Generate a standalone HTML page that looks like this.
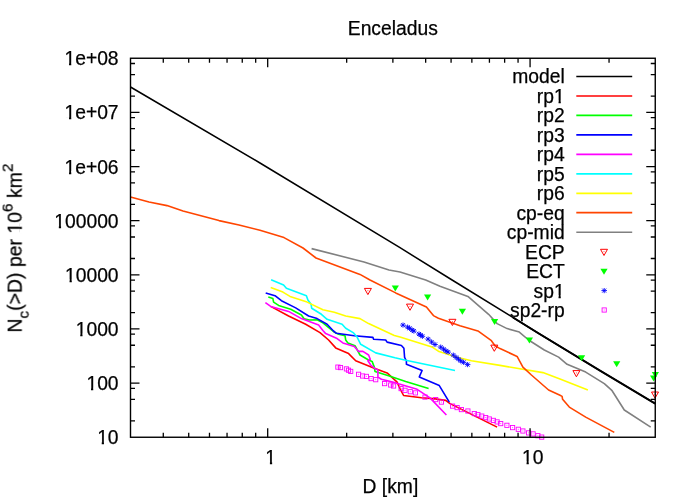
<!DOCTYPE html>
<html><head><meta charset="utf-8"><title>Enceladus</title><style>html,body{margin:0;padding:0;background:#fff;}svg{display:block}text{font-family:"Liberation Sans",sans-serif;fill:#000;stroke:#000;stroke-width:0.25px}</style></head><body>
<svg width="700" height="500" viewBox="0 0 700 500">
<rect width="700" height="500" fill="#fff"/>
<polyline points="130.5,87.0 260.0,163.0 400.0,247.7 452.1,280.0 538.0,333.0 600.0,370.7 655.2,403.7" fill="none" stroke="#000" stroke-width="1.5" stroke-linejoin="round" stroke-linecap="butt" />
<polyline points="513.0,317.5 538.0,333.0 600.0,370.7 655.2,403.7" fill="none" stroke="#000" stroke-width="2.0" stroke-linejoin="round" stroke-linecap="butt" />
<polyline points="270.7,306.4 288.6,316.0 305.7,324.3 320.0,332.6 328.6,340.0 335.7,347.9 348.6,353.6 355.7,360.7 374.3,368.3 387.1,372.9 397.1,382.1 400.0,388.6 403.6,395.5 421.4,397.7 432.9,398.6 445.7,400.4 450.0,403.6 497.1,427.1" fill="none" stroke="#ff0000" stroke-width="1.6" stroke-linejoin="round" stroke-linecap="butt" />
<polyline points="268.3,297.1 272.9,298.6 273.6,302.1 278.6,305.4 290.7,309.3 301.4,315.0 304.3,318.9 309.3,320.0 317.1,319.7 322.9,322.9 334.3,332.1 338.6,334.3 345.0,335.7 345.7,340.0 347.9,342.9 355.0,345.7 360.0,355.0 368.6,360.0 372.1,361.4 374.3,367.1 375.0,371.4 388.6,375.7 405.7,381.5 428.6,388.5" fill="none" stroke="#00ff00" stroke-width="1.6" stroke-linejoin="round" stroke-linecap="butt" />
<polyline points="265.7,292.9 275.0,295.7 281.4,300.7 295.7,307.9 308.6,316.0 317.1,318.6 327.1,324.3 333.5,331.0 336.4,333.3 354.3,335.7 372.9,337.4 373.6,339.3 385.7,340.0 387.1,342.1 401.4,345.5 403.9,348.3 404.6,357.4 406.4,361.0 406.4,364.3 422.1,370.5 419.3,376.9 439.3,385.6 449.3,402.1" fill="none" stroke="#0000ff" stroke-width="1.6" stroke-linejoin="round" stroke-linecap="butt" />
<polyline points="265.4,302.6 270.7,306.4 288.6,311.4 301.4,318.6 318.6,325.0 322.9,330.5 325.7,333.6 337.1,338.6 342.9,342.9 354.3,346.4 358.6,351.4 362.9,351.4 368.6,355.0 370.3,359.3 367.9,360.7 370.7,365.0 375.0,368.6 377.9,370.0 377.9,377.1 381.4,379.3 395.7,382.9 400.0,384.2 417.1,389.3 430.0,397.9 446.4,415.0" fill="none" stroke="#ff00ff" stroke-width="1.6" stroke-linejoin="round" stroke-linecap="butt" />
<polyline points="271.1,279.7 283.6,285.0 286.4,288.3 306.4,295.7 307.9,300.0 311.1,304.3 311.7,308.3 321.4,314.3 327.1,319.3 342.1,324.3 345.7,328.3 353.6,332.9 357.1,337.1 360.7,344.3 375.7,352.9 395.0,357.8 405.7,360.2 455.0,370.5" fill="none" stroke="#00ffff" stroke-width="1.6" stroke-linejoin="round" stroke-linecap="butt" />
<polyline points="270.7,287.4 282.9,292.1 290.0,296.4 307.1,302.1 322.9,309.7 334.3,312.3 345.7,316.0 360.0,318.6 368.6,323.6 394.3,335.4 400.0,337.1 420.0,343.2 432.7,347.3 439.0,351.6 457.1,357.3 471.4,360.7 500.0,365.4 542.9,372.6 560.0,379.0 587.9,390.0" fill="none" stroke="#ffff00" stroke-width="1.6" stroke-linejoin="round" stroke-linecap="butt" />
<polyline points="130.5,197.0 149.0,202.0 167.0,205.6 183.0,211.0 219.0,220.6 239.0,225.0 260.0,230.3 284.0,237.6 303.0,248.0 316.0,258.0 360.0,274.4 370.0,280.0 395.7,292.9 426.4,307.0 433.4,315.6 438.4,318.3 460.0,325.7 477.9,330.9 491.4,340.7 495.0,345.7 500.0,348.6 517.1,356.4 522.9,367.1 531.4,375.0 548.6,390.0 560.0,395.3 562.1,396.4 562.6,399.3 569.3,407.1 585.7,417.1 614.3,432.4" fill="none" stroke="#ff4500" stroke-width="1.6" stroke-linejoin="round" stroke-linecap="butt" />
<polyline points="311.6,248.6 364.0,262.0 389.0,270.0 400.0,272.0 425.7,280.0 440.0,286.2 467.9,296.4 488.6,314.3 497.1,323.6 507.1,328.6 519.3,332.1 528.6,340.0 544.3,350.0 558.6,357.1 567.1,364.3 585.7,372.1 604.3,383.6 612.1,390.7 624.3,410.0 650.7,427.1" fill="none" stroke="#808080" stroke-width="1.6" stroke-linejoin="round" stroke-linecap="butt" />
<path d="M364.4 288.4 h7 l-3.5 6.2 z" fill="none" stroke="#ff0000" stroke-width="1"/>
<rect x="367.4" y="290.2" width="1" height="1" fill="#ff0000" opacity="0.7"/>
<path d="M406.5 304.1 h7 l-3.5 6.2 z" fill="none" stroke="#ff0000" stroke-width="1"/>
<rect x="409.5" y="305.9" width="1" height="1" fill="#ff0000" opacity="0.7"/>
<path d="M448.9 319.3 h7 l-3.5 6.2 z" fill="none" stroke="#ff0000" stroke-width="1"/>
<rect x="451.9" y="321.1" width="1" height="1" fill="#ff0000" opacity="0.7"/>
<path d="M490.8 345.1 h7 l-3.5 6.2 z" fill="none" stroke="#ff0000" stroke-width="1"/>
<rect x="493.8" y="346.9" width="1" height="1" fill="#ff0000" opacity="0.7"/>
<path d="M572.9 370.6 h7 l-3.5 6.2 z" fill="none" stroke="#ff0000" stroke-width="1"/>
<rect x="575.9" y="372.4" width="1" height="1" fill="#ff0000" opacity="0.7"/>
<path d="M651.5 392.0 h7 l-3.5 6.2 z" fill="none" stroke="#ff0000" stroke-width="1"/>
<rect x="654.5" y="393.8" width="1" height="1" fill="#ff0000" opacity="0.7"/>
<path d="M391.7 285.5 h7.2 l-3.6 6.0 z" fill="#00ff00"/>
<path d="M424.0 294.5 h7.2 l-3.6 6.0 z" fill="#00ff00"/>
<path d="M458.8 308.7 h7.2 l-3.6 6.0 z" fill="#00ff00"/>
<path d="M491.0 319.0 h7.2 l-3.6 6.0 z" fill="#00ff00"/>
<path d="M525.8 337.4 h7.2 l-3.6 6.0 z" fill="#00ff00"/>
<path d="M578.0 355.2 h7.2 l-3.6 6.0 z" fill="#00ff00"/>
<path d="M613.1 361.2 h7.2 l-3.6 6.0 z" fill="#00ff00"/>
<path d="M651.8 371.9 h7.2 l-3.6 6.0 z" fill="#00ff00"/>
<path d="M650.0 375.5 h7.2 l-3.6 6.0 z" fill="#00ff00"/>
<path d="M400.2 325.1 h5.6 M403.0 322.5 v5.2 M401.0 323.1 l4 4 M401.0 327.1 l4 -4" stroke="#0000ff" stroke-width="0.9" fill="none"/>
<path d="M404.8 327.1 h5.6 M407.6 324.5 v5.2 M405.6 325.1 l4 4 M405.6 329.1 l4 -4" stroke="#0000ff" stroke-width="0.9" fill="none"/>
<path d="M406.8 328.3 h5.6 M409.6 325.7 v5.2 M407.6 326.3 l4 4 M407.6 330.3 l4 -4" stroke="#0000ff" stroke-width="0.9" fill="none"/>
<path d="M409.3 330.0 h5.6 M412.1 327.4 v5.2 M410.1 328.0 l4 4 M410.1 332.0 l4 -4" stroke="#0000ff" stroke-width="0.9" fill="none"/>
<path d="M411.1 331.1 h5.6 M413.9 328.5 v5.2 M411.9 329.1 l4 4 M411.9 333.1 l4 -4" stroke="#0000ff" stroke-width="0.9" fill="none"/>
<path d="M416.2 334.0 h5.6 M419.0 331.4 v5.2 M417.0 332.0 l4 4 M417.0 336.0 l4 -4" stroke="#0000ff" stroke-width="0.9" fill="none"/>
<path d="M417.9 335.1 h5.6 M420.7 332.5 v5.2 M418.7 333.1 l4 4 M418.7 337.1 l4 -4" stroke="#0000ff" stroke-width="0.9" fill="none"/>
<path d="M419.6 336.3 h5.6 M422.4 333.7 v5.2 M420.4 334.3 l4 4 M420.4 338.3 l4 -4" stroke="#0000ff" stroke-width="0.9" fill="none"/>
<path d="M425.3 339.1 h5.6 M428.1 336.5 v5.2 M426.1 337.1 l4 4 M426.1 341.1 l4 -4" stroke="#0000ff" stroke-width="0.9" fill="none"/>
<path d="M428.8 342.0 h5.6 M431.6 339.4 v5.2 M429.6 340.0 l4 4 M429.6 344.0 l4 -4" stroke="#0000ff" stroke-width="0.9" fill="none"/>
<path d="M432.2 344.5 h5.6 M435.0 341.9 v5.2 M433.0 342.5 l4 4 M433.0 346.5 l4 -4" stroke="#0000ff" stroke-width="0.9" fill="none"/>
<path d="M437.9 347.1 h5.6 M440.7 344.5 v5.2 M438.7 345.1 l4 4 M438.7 349.1 l4 -4" stroke="#0000ff" stroke-width="0.9" fill="none"/>
<path d="M440.8 349.1 h5.6 M443.6 346.5 v5.2 M441.6 347.1 l4 4 M441.6 351.1 l4 -4" stroke="#0000ff" stroke-width="0.9" fill="none"/>
<path d="M443.1 350.9 h5.6 M445.9 348.3 v5.2 M443.9 348.9 l4 4 M443.9 352.9 l4 -4" stroke="#0000ff" stroke-width="0.9" fill="none"/>
<path d="M445.3 352.1 h5.6 M448.1 349.5 v5.2 M446.1 350.1 l4 4 M446.1 354.1 l4 -4" stroke="#0000ff" stroke-width="0.9" fill="none"/>
<path d="M450.5 355.1 h5.6 M453.3 352.5 v5.2 M451.3 353.1 l4 4 M451.3 357.1 l4 -4" stroke="#0000ff" stroke-width="0.9" fill="none"/>
<path d="M453.3 357.4 h5.6 M456.1 354.8 v5.2 M454.1 355.4 l4 4 M454.1 359.4 l4 -4" stroke="#0000ff" stroke-width="0.9" fill="none"/>
<path d="M455.6 359.1 h5.6 M458.4 356.5 v5.2 M456.4 357.1 l4 4 M456.4 361.1 l4 -4" stroke="#0000ff" stroke-width="0.9" fill="none"/>
<path d="M457.9 360.9 h5.6 M460.7 358.3 v5.2 M458.7 358.9 l4 4 M458.7 362.9 l4 -4" stroke="#0000ff" stroke-width="0.9" fill="none"/>
<path d="M460.8 362.3 h5.6 M463.6 359.7 v5.2 M461.6 360.3 l4 4 M461.6 364.3 l4 -4" stroke="#0000ff" stroke-width="0.9" fill="none"/>
<path d="M464.8 364.6 h5.6 M467.6 362.0 v5.2 M465.6 362.6 l4 4 M465.6 366.6 l4 -4" stroke="#0000ff" stroke-width="0.9" fill="none"/>
<rect x="335.8" y="365.0" width="4.2" height="4.2" fill="none" stroke="#ff00ff" stroke-width="0.9"/>
<rect x="337.4" y="366.6" width="1" height="1" fill="#ff00ff" opacity="0.7"/>
<rect x="338.4" y="365.5" width="4.2" height="4.2" fill="none" stroke="#ff00ff" stroke-width="0.9"/>
<rect x="340.0" y="367.1" width="1" height="1" fill="#ff00ff" opacity="0.7"/>
<rect x="344.3" y="366.8" width="4.2" height="4.2" fill="none" stroke="#ff00ff" stroke-width="0.9"/>
<rect x="345.9" y="368.4" width="1" height="1" fill="#ff00ff" opacity="0.7"/>
<rect x="346.4" y="368.1" width="4.2" height="4.2" fill="none" stroke="#ff00ff" stroke-width="0.9"/>
<rect x="348.0" y="369.7" width="1" height="1" fill="#ff00ff" opacity="0.7"/>
<rect x="348.6" y="369.3" width="4.2" height="4.2" fill="none" stroke="#ff00ff" stroke-width="0.9"/>
<rect x="350.2" y="370.9" width="1" height="1" fill="#ff00ff" opacity="0.7"/>
<rect x="356.5" y="372.2" width="4.2" height="4.2" fill="none" stroke="#ff00ff" stroke-width="0.9"/>
<rect x="358.1" y="373.8" width="1" height="1" fill="#ff00ff" opacity="0.7"/>
<rect x="360.5" y="373.9" width="4.2" height="4.2" fill="none" stroke="#ff00ff" stroke-width="0.9"/>
<rect x="362.1" y="375.5" width="1" height="1" fill="#ff00ff" opacity="0.7"/>
<rect x="364.3" y="374.3" width="4.2" height="4.2" fill="none" stroke="#ff00ff" stroke-width="0.9"/>
<rect x="365.9" y="375.9" width="1" height="1" fill="#ff00ff" opacity="0.7"/>
<rect x="369.0" y="376.5" width="4.2" height="4.2" fill="none" stroke="#ff00ff" stroke-width="0.9"/>
<rect x="370.6" y="378.1" width="1" height="1" fill="#ff00ff" opacity="0.7"/>
<rect x="373.6" y="377.6" width="4.2" height="4.2" fill="none" stroke="#ff00ff" stroke-width="0.9"/>
<rect x="375.2" y="379.2" width="1" height="1" fill="#ff00ff" opacity="0.7"/>
<rect x="382.5" y="381.5" width="4.2" height="4.2" fill="none" stroke="#ff00ff" stroke-width="0.9"/>
<rect x="384.1" y="383.1" width="1" height="1" fill="#ff00ff" opacity="0.7"/>
<rect x="388.6" y="382.9" width="4.2" height="4.2" fill="none" stroke="#ff00ff" stroke-width="0.9"/>
<rect x="390.2" y="384.5" width="1" height="1" fill="#ff00ff" opacity="0.7"/>
<rect x="391.5" y="383.9" width="4.2" height="4.2" fill="none" stroke="#ff00ff" stroke-width="0.9"/>
<rect x="393.1" y="385.5" width="1" height="1" fill="#ff00ff" opacity="0.7"/>
<rect x="399.0" y="386.5" width="4.2" height="4.2" fill="none" stroke="#ff00ff" stroke-width="0.9"/>
<rect x="400.6" y="388.1" width="1" height="1" fill="#ff00ff" opacity="0.7"/>
<rect x="402.9" y="388.2" width="4.2" height="4.2" fill="none" stroke="#ff00ff" stroke-width="0.9"/>
<rect x="404.5" y="389.8" width="1" height="1" fill="#ff00ff" opacity="0.7"/>
<rect x="408.2" y="389.6" width="4.2" height="4.2" fill="none" stroke="#ff00ff" stroke-width="0.9"/>
<rect x="409.8" y="391.2" width="1" height="1" fill="#ff00ff" opacity="0.7"/>
<rect x="413.3" y="390.8" width="4.2" height="4.2" fill="none" stroke="#ff00ff" stroke-width="0.9"/>
<rect x="414.9" y="392.4" width="1" height="1" fill="#ff00ff" opacity="0.7"/>
<rect x="422.9" y="395.0" width="4.2" height="4.2" fill="none" stroke="#ff00ff" stroke-width="0.9"/>
<rect x="424.5" y="396.6" width="1" height="1" fill="#ff00ff" opacity="0.7"/>
<rect x="433.6" y="397.5" width="4.2" height="4.2" fill="none" stroke="#ff00ff" stroke-width="0.9"/>
<rect x="435.2" y="399.1" width="1" height="1" fill="#ff00ff" opacity="0.7"/>
<rect x="439.3" y="400.0" width="4.2" height="4.2" fill="none" stroke="#ff00ff" stroke-width="0.9"/>
<rect x="440.9" y="401.6" width="1" height="1" fill="#ff00ff" opacity="0.7"/>
<rect x="450.5" y="404.0" width="4.2" height="4.2" fill="none" stroke="#ff00ff" stroke-width="0.9"/>
<rect x="452.1" y="405.6" width="1" height="1" fill="#ff00ff" opacity="0.7"/>
<rect x="455.0" y="405.5" width="4.2" height="4.2" fill="none" stroke="#ff00ff" stroke-width="0.9"/>
<rect x="456.6" y="407.1" width="1" height="1" fill="#ff00ff" opacity="0.7"/>
<rect x="459.3" y="407.5" width="4.2" height="4.2" fill="none" stroke="#ff00ff" stroke-width="0.9"/>
<rect x="460.9" y="409.1" width="1" height="1" fill="#ff00ff" opacity="0.7"/>
<rect x="465.8" y="408.9" width="4.2" height="4.2" fill="none" stroke="#ff00ff" stroke-width="0.9"/>
<rect x="467.4" y="410.5" width="1" height="1" fill="#ff00ff" opacity="0.7"/>
<rect x="472.2" y="411.5" width="4.2" height="4.2" fill="none" stroke="#ff00ff" stroke-width="0.9"/>
<rect x="473.8" y="413.1" width="1" height="1" fill="#ff00ff" opacity="0.7"/>
<rect x="475.8" y="412.6" width="4.2" height="4.2" fill="none" stroke="#ff00ff" stroke-width="0.9"/>
<rect x="477.4" y="414.2" width="1" height="1" fill="#ff00ff" opacity="0.7"/>
<rect x="479.7" y="414.0" width="4.2" height="4.2" fill="none" stroke="#ff00ff" stroke-width="0.9"/>
<rect x="481.3" y="415.6" width="1" height="1" fill="#ff00ff" opacity="0.7"/>
<rect x="483.6" y="415.5" width="4.2" height="4.2" fill="none" stroke="#ff00ff" stroke-width="0.9"/>
<rect x="485.2" y="417.1" width="1" height="1" fill="#ff00ff" opacity="0.7"/>
<rect x="487.2" y="416.9" width="4.2" height="4.2" fill="none" stroke="#ff00ff" stroke-width="0.9"/>
<rect x="488.8" y="418.5" width="1" height="1" fill="#ff00ff" opacity="0.7"/>
<rect x="491.2" y="418.3" width="4.2" height="4.2" fill="none" stroke="#ff00ff" stroke-width="0.9"/>
<rect x="492.8" y="419.9" width="1" height="1" fill="#ff00ff" opacity="0.7"/>
<rect x="495.0" y="419.8" width="4.2" height="4.2" fill="none" stroke="#ff00ff" stroke-width="0.9"/>
<rect x="496.6" y="421.4" width="1" height="1" fill="#ff00ff" opacity="0.7"/>
<rect x="498.6" y="421.5" width="4.2" height="4.2" fill="none" stroke="#ff00ff" stroke-width="0.9"/>
<rect x="500.2" y="423.1" width="1" height="1" fill="#ff00ff" opacity="0.7"/>
<rect x="504.8" y="423.2" width="4.2" height="4.2" fill="none" stroke="#ff00ff" stroke-width="0.9"/>
<rect x="506.4" y="424.8" width="1" height="1" fill="#ff00ff" opacity="0.7"/>
<rect x="510.5" y="425.5" width="4.2" height="4.2" fill="none" stroke="#ff00ff" stroke-width="0.9"/>
<rect x="512.1" y="427.1" width="1" height="1" fill="#ff00ff" opacity="0.7"/>
<rect x="516.2" y="427.2" width="4.2" height="4.2" fill="none" stroke="#ff00ff" stroke-width="0.9"/>
<rect x="517.8" y="428.8" width="1" height="1" fill="#ff00ff" opacity="0.7"/>
<rect x="520.8" y="428.9" width="4.2" height="4.2" fill="none" stroke="#ff00ff" stroke-width="0.9"/>
<rect x="522.4" y="430.5" width="1" height="1" fill="#ff00ff" opacity="0.7"/>
<rect x="526.5" y="430.8" width="4.2" height="4.2" fill="none" stroke="#ff00ff" stroke-width="0.9"/>
<rect x="528.1" y="432.4" width="1" height="1" fill="#ff00ff" opacity="0.7"/>
<rect x="531.0" y="431.8" width="4.2" height="4.2" fill="none" stroke="#ff00ff" stroke-width="0.9"/>
<rect x="532.6" y="433.4" width="1" height="1" fill="#ff00ff" opacity="0.7"/>
<rect x="535.8" y="433.6" width="4.2" height="4.2" fill="none" stroke="#ff00ff" stroke-width="0.9"/>
<rect x="537.4" y="435.2" width="1" height="1" fill="#ff00ff" opacity="0.7"/>
<rect x="539.6" y="435.0" width="4.2" height="4.2" fill="none" stroke="#ff00ff" stroke-width="0.9"/>
<rect x="541.2" y="436.6" width="1" height="1" fill="#ff00ff" opacity="0.7"/>
<path d="M130.50 420.95L135.00 420.95M655.25 420.95L650.75 420.95M130.50 399.41L135.00 399.41M655.25 399.41L650.75 399.41M130.50 388.35L135.00 388.35M655.25 388.35L650.75 388.35M130.50 383.11L139.50 383.11M655.25 383.11L646.25 383.11M130.50 366.81L135.00 366.81M655.25 366.81L650.75 366.81M130.50 345.26L135.00 345.26M655.25 345.26L650.75 345.26M130.50 334.21L135.00 334.21M655.25 334.21L650.75 334.21M130.50 328.96L139.50 328.96M655.25 328.96L646.25 328.96M130.50 312.67L135.00 312.67M655.25 312.67L650.75 312.67M130.50 291.12L135.00 291.12M655.25 291.12L650.75 291.12M130.50 280.07L135.00 280.07M655.25 280.07L650.75 280.07M130.50 274.82L139.50 274.82M655.25 274.82L646.25 274.82M130.50 258.52L135.00 258.52M655.25 258.52L650.75 258.52M130.50 236.98L135.00 236.98M655.25 236.98L650.75 236.98M130.50 225.93L135.00 225.93M655.25 225.93L650.75 225.93M130.50 220.68L139.50 220.68M655.25 220.68L646.25 220.68M130.50 204.38L135.00 204.38M655.25 204.38L650.75 204.38M130.50 182.83L135.00 182.83M655.25 182.83L650.75 182.83M130.50 171.78L135.00 171.78M655.25 171.78L650.75 171.78M130.50 166.54L139.50 166.54M655.25 166.54L646.25 166.54M130.50 150.24L135.00 150.24M655.25 150.24L650.75 150.24M130.50 128.69L135.00 128.69M655.25 128.69L650.75 128.69M130.50 117.64L135.00 117.64M655.25 117.64L650.75 117.64M130.50 112.39L139.50 112.39M655.25 112.39L646.25 112.39M130.50 96.09L135.00 96.09M655.25 96.09L650.75 96.09M130.50 74.55L135.00 74.55M655.25 74.55L650.75 74.55M130.50 63.50L135.00 63.50M655.25 63.50L650.75 63.50M163.28 437.25L163.28 432.75M163.28 58.25L163.28 62.75M188.71 437.25L188.71 432.75M188.71 58.25L188.71 62.75M209.48 437.25L209.48 432.75M209.48 58.25L209.48 62.75M227.05 437.25L227.05 432.75M227.05 58.25L227.05 62.75M242.26 437.25L242.26 432.75M242.26 58.25L242.26 62.75M255.68 437.25L255.68 432.75M255.68 58.25L255.68 62.75M267.69 437.25L267.69 428.25M267.69 58.25L267.69 67.25M346.67 437.25L346.67 432.75M346.67 58.25L346.67 62.75M392.88 437.25L392.88 432.75M392.88 58.25L392.88 62.75M425.66 437.25L425.66 432.75M425.66 58.25L425.66 62.75M451.08 437.25L451.08 432.75M451.08 58.25L451.08 62.75M471.86 437.25L471.86 432.75M471.86 58.25L471.86 62.75M489.42 437.25L489.42 432.75M489.42 58.25L489.42 62.75M504.64 437.25L504.64 432.75M504.64 58.25L504.64 62.75M518.06 437.25L518.06 432.75M518.06 58.25L518.06 62.75M530.07 437.25L530.07 428.25M530.07 58.25L530.07 67.25M609.05 437.25L609.05 432.75M609.05 58.25L609.05 62.75" stroke="#000" stroke-width="1.3" fill="none"/>
<rect x="130.50" y="58.25" width="524.75" height="379.00" fill="none" stroke="#000" stroke-width="1.4"/>
<g opacity="0.999">
<text x="392.8" y="35.1" font-size="19.3" text-anchor="middle">Enceladus</text>
<text x="118.6" y="65.2" font-size="19.3" text-anchor="end">1e+08</text>
<text x="118.6" y="119.4" font-size="19.3" text-anchor="end">1e+07</text>
<text x="118.6" y="173.5" font-size="19.3" text-anchor="end">1e+06</text>
<text x="118.6" y="227.7" font-size="19.3" text-anchor="end">100000</text>
<text x="118.6" y="281.8" font-size="19.3" text-anchor="end">10000</text>
<text x="118.6" y="336.0" font-size="19.3" text-anchor="end">1000</text>
<text x="118.6" y="390.1" font-size="19.3" text-anchor="end">100</text>
<text x="118.6" y="444.2" font-size="19.3" text-anchor="end">10</text>
<text x="270.7" y="463.7" font-size="19.3" text-anchor="middle">1</text>
<text x="532.7" y="463.7" font-size="19.3" text-anchor="middle">10</text>
<text x="390.4" y="492.6" font-size="19.3" text-anchor="middle">D [km]</text>
<text transform="translate(21.6,248.1) rotate(-90)" font-size="19.45" text-anchor="middle">N<tspan font-size="15.4" dy="6.5">c</tspan><tspan dy="-6.5">(&gt;D) per 10</tspan><tspan font-size="15.4" dy="-9.2">6</tspan><tspan dy="9.2"> km</tspan><tspan font-size="15.4" dy="-9.2">2</tspan></text>
</g>
<text x="564.7" y="83.4" font-size="19.3" text-anchor="end">model</text>
<path d="M576.3 76.5H632.2" stroke="#000" stroke-width="1.3" fill="none"/>
<text x="564.7" y="102.9" font-size="19.3" text-anchor="end">rp1</text>
<path d="M576.3 96.0H632.2" stroke="#ff0000" stroke-width="1.7" fill="none"/>
<text x="564.7" y="122.3" font-size="19.3" text-anchor="end">rp2</text>
<path d="M576.3 115.4H632.2" stroke="#00ff00" stroke-width="1.7" fill="none"/>
<text x="564.7" y="141.8" font-size="19.3" text-anchor="end">rp3</text>
<path d="M576.3 134.9H632.2" stroke="#0000ff" stroke-width="1.7" fill="none"/>
<text x="564.7" y="161.2" font-size="19.3" text-anchor="end">rp4</text>
<path d="M576.3 154.3H632.2" stroke="#ff00ff" stroke-width="1.7" fill="none"/>
<text x="564.7" y="180.7" font-size="19.3" text-anchor="end">rp5</text>
<path d="M576.3 173.8H632.2" stroke="#00ffff" stroke-width="1.7" fill="none"/>
<text x="564.7" y="200.2" font-size="19.3" text-anchor="end">rp6</text>
<path d="M576.3 193.3H632.2" stroke="#ffff00" stroke-width="1.7" fill="none"/>
<text x="564.7" y="219.6" font-size="19.3" text-anchor="end">cp-eq</text>
<path d="M576.3 212.7H632.2" stroke="#ff4500" stroke-width="1.7" fill="none"/>
<text x="564.7" y="239.1" font-size="19.3" text-anchor="end">cp-mid</text>
<path d="M576.3 232.2H632.2" stroke="#808080" stroke-width="1.45" fill="none"/>
<text x="564.7" y="258.5" font-size="19.3" text-anchor="end">ECP</text>
<path d="M600.5 249.3 h7 l-3.5 6.2 z" fill="none" stroke="#ff0000" stroke-width="1"/>
<rect x="603.5" y="251.1" width="1" height="1" fill="#ff0000" opacity="0.7"/>
<text x="564.7" y="278.0" font-size="19.3" text-anchor="end">ECT</text>
<path d="M600.4 268.7 h7.2 l-3.6 6.0 z" fill="#00ff00"/>
<text x="564.7" y="297.5" font-size="19.3" text-anchor="end">sp1</text>
<path d="M601.4 290.6 h5.6 M604.2 288.0 v5.2 M602.2 288.6 l4 4 M602.2 292.6 l4 -4" stroke="#0000ff" stroke-width="0.9" fill="none"/>
<text x="564.7" y="316.9" font-size="19.3" text-anchor="end">sp2-rp</text>
<rect x="602.1" y="307.9" width="4.2" height="4.2" fill="none" stroke="#ff00ff" stroke-width="0.9"/>
<rect x="603.7" y="309.5" width="1" height="1" fill="#ff00ff" opacity="0.7"/>
<g id="ones" fill="#fff"><rect x="64.44" y="62.85" width="4.57" height="4.50"/><rect x="71.26" y="62.85" width="3.96" height="4.50"/><rect x="64.44" y="117.05" width="4.57" height="4.50"/><rect x="71.26" y="117.05" width="3.96" height="4.50"/><rect x="64.44" y="171.15" width="4.57" height="4.50"/><rect x="71.26" y="171.15" width="3.96" height="4.50"/><rect x="54.26" y="225.35" width="4.57" height="4.50"/><rect x="61.07" y="225.35" width="3.96" height="4.50"/><rect x="64.97" y="279.45" width="4.57" height="4.50"/><rect x="71.79" y="279.45" width="3.96" height="4.50"/><rect x="75.69" y="333.65" width="4.57" height="4.50"/><rect x="82.51" y="333.65" width="3.96" height="4.50"/><rect x="86.43" y="387.75" width="4.57" height="4.50"/><rect x="93.24" y="387.75" width="3.96" height="4.50"/><rect x="97.15" y="441.85" width="4.57" height="4.50"/><rect x="103.96" y="441.85" width="3.96" height="4.50"/><rect x="265.33" y="461.35" width="4.57" height="4.50"/><rect x="272.15" y="461.35" width="3.96" height="4.50"/><rect x="521.97" y="461.35" width="4.57" height="4.50"/><rect x="528.79" y="461.35" width="3.96" height="4.50"/><g transform="translate(21.6,248.1) rotate(-90)"><rect x="14.45" y="-2.36" width="4.61" height="4.51"/><rect x="21.31" y="-2.36" width="3.99" height="4.51"/></g><rect x="553.97" y="100.55" width="4.57" height="4.50"/><rect x="560.78" y="100.55" width="3.96" height="4.50"/><rect x="553.97" y="295.15" width="4.57" height="4.50"/><rect x="560.78" y="295.15" width="3.96" height="4.50"/></g>
</svg></body></html>
